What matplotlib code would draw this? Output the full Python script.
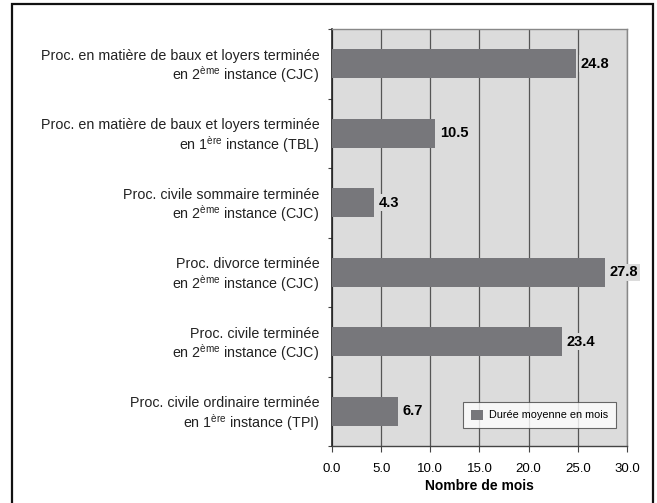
import matplotlib
matplotlib.use("Agg")
import matplotlib.pyplot as plt
from matplotlib.patches import Rectangle

plt.rcParams['font.family'] = ['Liberation Sans', 'DejaVu Sans']
plt.rcParams['mathtext.fontset'] = 'custom'
plt.rcParams['mathtext.rm'] = 'Liberation Sans'
plt.rcParams['mathtext.default'] = 'regular'

categories = [
    "Proc. en matière de baux et loyers terminée\nen 2$^{ème}$ instance (CJC)",
    "Proc. en matière de baux et loyers terminée\nen 1$^{ère}$ instance (TBL)",
    "Proc. civile sommaire terminée\nen 2$^{ème}$ instance (CJC)",
    "Proc. divorce terminée\nen 2$^{ème}$ instance (CJC)",
    "Proc. civile terminée\nen 2$^{ème}$ instance (CJC)",
    "Proc. civile ordinaire terminée\nen 1$^{ère}$ instance (TPI)",
]
values = [24.8, 10.5, 4.3, 27.8, 23.4, 6.7]
xticks = [0, 5, 10, 15, 20, 25, 30]
series_name = "Durée moyenne en mois"
xlabel = "Nombre de mois"

fig = plt.figure(figsize=(6.57, 5.03), dpi=100)
ax = fig.add_axes([332/657, 1-446/503, 295/657, 417/503])
ax.set_facecolor('#dcdcdc')

ypos = list(range(len(categories)))
ax.barh(ypos, values, height=0.42, color='#77777b', label=series_name, zorder=3)
ax.set_ylim(len(categories)-0.5, -0.5)
ax.set_xlim(0, 30)

ax.set_xticks(xticks)
ax.set_xticklabels([f"{v:.1f}" for v in xticks], fontsize=9.5)
ax.set_yticks(ypos)
ax.set_yticklabels(categories, fontsize=10.3, linespacing=1.1, color='#222222')
ax.tick_params(axis='y', length=0, pad=9)
ax.set_yticks([i - 0.5 for i in range(len(categories)+1)], minor=True)
ax.tick_params(axis='y', which='minor', length=3, width=0.8, color='#444444')
ax.tick_params(axis='x', length=4, width=0.8, color='#444444', pad=8)

ax.grid(axis='x', color='#555555', linewidth=0.9, zorder=1)
ax.set_axisbelow(True)

for side in ['top', 'right']:
    ax.spines[side].set_color('#888888')
    ax.spines[side].set_linewidth(1.0)
ax.spines['left'].set_color('#222222')
ax.spines['left'].set_linewidth(1.2)
ax.spines['bottom'].set_color('#444444')
ax.spines['bottom'].set_linewidth(1.0)

for y, v in zip(ypos, values):
    ax.text(v + 0.45, y, f"{v:.1f}", va='center', ha='left', fontsize=10.5,
            fontweight='bold', zorder=5, clip_on=False,
            bbox=dict(facecolor='#dcdcdc', edgecolor='none', pad=1.0))

ax.set_xlabel(xlabel, fontsize=10, fontweight='bold', labelpad=3)

leg = ax.legend(loc='lower right', bbox_to_anchor=(0.963, 0.043), fontsize=7.8,
                frameon=True, fancybox=False, edgecolor='#444444',
                handlelength=1.1, handleheight=1.1, borderpad=0.7, handletextpad=0.6,
                borderaxespad=0)
leg.get_frame().set_linewidth(0.8)
leg.set_zorder(6)

fig.patches.append(Rectangle((12/657, -0.02), (653-12)/657, 1 - 4/503 + 0.02,
                             transform=fig.transFigure, fill=False,
                             edgecolor='#111111', linewidth=1.6))

fig.savefig('out.png', dpi=100)
